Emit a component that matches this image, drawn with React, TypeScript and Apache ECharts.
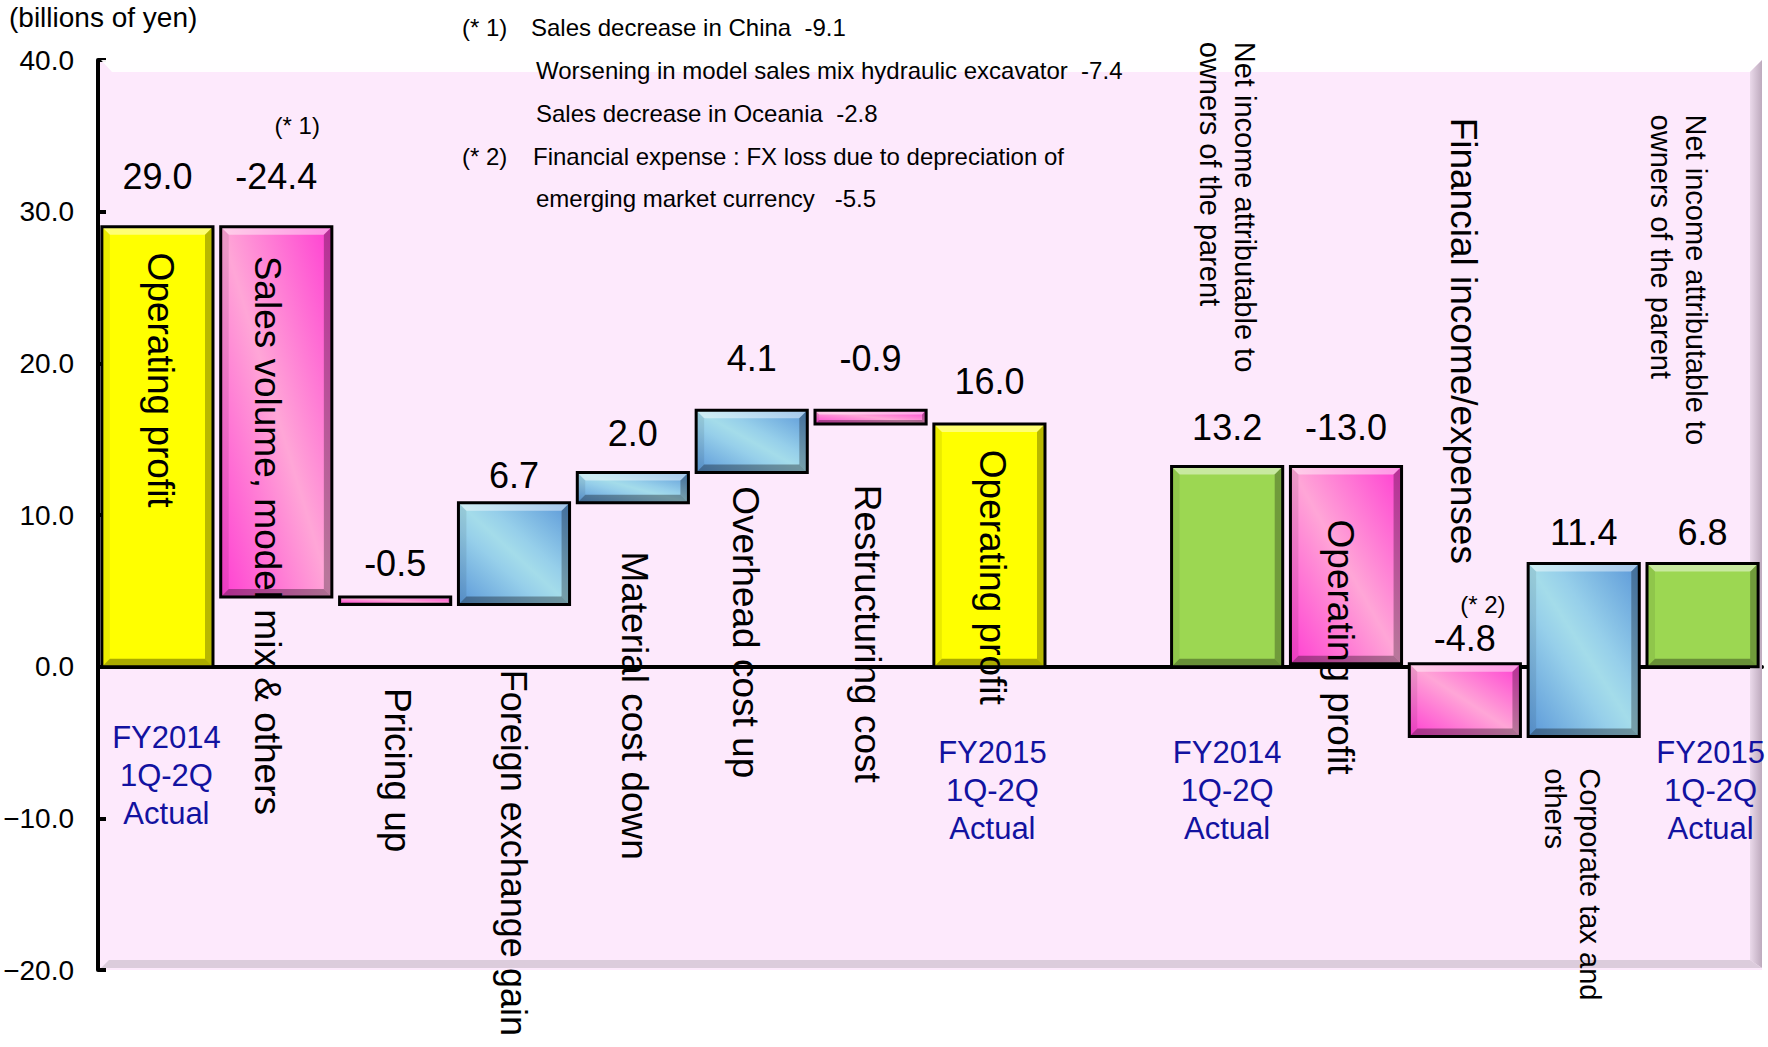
import React, { useEffect, useRef } from "react";
import * as echarts from "echarts";

// ---------------- data ----------------
const categories = [
  "FY2014 1Q-2Q Actual Operating profit",
  "Sales volume, model mix & others",
  "Pricing up",
  "Foreign exchange gain",
  "Material cost down",
  "Overhead cost up",
  "Restructuring cost",
  "FY2015 1Q-2Q Actual Operating profit",
  "",
  "FY2014 1Q-2Q Actual Net income attributable to owners of the parent",
  "Operating profit",
  "Financial income/expenses",
  "Corporate tax and others",
  "FY2015 1Q-2Q Actual Net income attributable to owners of the parent",
];
const barKinds = [
  "opTotal", "delta", "delta", "delta", "delta", "delta", "delta", "opTotal",
  "none", "netTotal", "delta", "delta", "delta", "netTotal",
];
const values: (number | null)[] = [
  29.0, -24.4, -0.5, 6.7, 2.0, 4.1, -0.9, 16.0, null, 13.2, -13.0, -4.8, 11.4, 6.8,
];
const categoryLabels = [
  "Operating profit",
  "Sales volume, model mix & others",
  "Pricing up",
  "Foreign exchange gain",
  "Material cost down",
  "Overhead cost up",
  "Restructuring cost",
  "Operating profit",
  "",
  "Net income attributable to\nowners of the parent",
  "Operating profit",
  "Financial income/expenses",
  "Corporate tax and\nothers",
  "Net income attributable to\nowners of the parent",
];
const periodLabels = [
  "FY2014\n1Q-2Q\nActual", "", "", "", "", "", "", "FY2015\n1Q-2Q\nActual",
  "", "FY2014\n1Q-2Q\nActual", "", "", "", "FY2015\n1Q-2Q\nActual",
];
const footnoteMarks = ["", "(* 1)", "", "", "", "", "", "", "", "", "", "(* 2)", "", ""];
const noteMarks = ["(* 1)", "", "", "(* 2)", ""];
const noteTexts = [
  "Sales decrease in China  -9.1",
  "Worsening in model sales mix hydraulic excavator  -7.4",
  "Sales decrease in Oceania  -2.8",
  "Financial expense : FX loss due to depreciation of",
  "emerging market currency   -5.5",
];
const yMin = -20;
const yMax = 40;
const yStep = 10;
const unitLabel = "(billions of yen)";

// ---------------- layout / style ----------------
const FONT = '"Liberation Sans", Arial, sans-serif';
const BAR_RATIO = 0.935;
const LABEL_START = [27.3, 27.1, -1.4, -0.2, 7.6, 11.9, 12.0, 14.3, 0, 41.2, 9.7, 36.2, -6.7, 36.4];
const LABEL_DX = [3, -9, 2, -1, 2, -6, -3, 3, 0, 0, -6, -1, -11, -24];
const LABEL_SIZE = [37, 37, 37, 36, 37, 37, 37, 37, 37, 29, 37, 37, 29, 29];
const VALUE_GAP = [50, 50, 33, 27, 39, 52, 52, 43, 0, 39, 39, 25, 31, 31];
const PERIOD_TOP = [-3.4, 0, 0, 0, 0, 0, 0, -4.4, 0, -4.4, 0, 0, 0, -4.4];
const PERIOD_DX = [9, 0, 0, 0, 0, 0, 0, 3, 0, 0, 0, 0, 0, 8];
const FOOT_POS = [0, 35.7, 0, 0, 0, 0, 0, 0, 0, 0, 0, 4.1, 0, 0];
const FOOT_DX = [0, 21, 0, 0, 0, 0, 0, 0, 0, 0, 0, 18, 0, 0];
const NOTE_Y = [27, 70, 113, 156, 198];

const PINK_STOPS = [
  { offset: 0, color: "#FF3ED2" },
  { offset: 0.5, color: "#FFA6D7" },
  { offset: 1, color: "#FF3ED2" },
];
const BLUE_STOPS = [
  { offset: 0, color: "#5A97D8" },
  { offset: 0.38, color: "#96CFEA" },
  { offset: 0.5, color: "#A4DCEA" },
  { offset: 0.62, color: "#96CFEA" },
  { offset: 1, color: "#5A97D8" },
];

function diagGradient(x: number, y: number, w: number, h: number, stops: any[]) {
  const cx = x + w / 2;
  const cy = y + h / 2;
  const nx = h;
  const ny = -w;
  const k = (w * h) / (nx * nx + ny * ny);
  return new echarts.graphic.LinearGradient(
    cx - nx * k, cy - ny * k, cx + nx * k, cy + ny * k, stops, true
  );
}

function buildItems() {
  const items: number[][] = [];
  let running = 0;
  values.forEach((v, i) => {
    if (v == null) return;
    const kind = barKinds[i];
    if (kind === "opTotal" || kind === "netTotal") {
      running = v;
      items.push([i, 0, v]);
    } else {
      const start = running;
      running = start + v;
      items.push([i, Math.min(start, running), Math.max(start, running)]);
    }
  });
  return items;
}

function txt(text: string, size: number, color: string, align: string, vAlign: string, extra: any = {}) {
  return {
    text,
    fill: color,
    font: `${size}px ${FONT}`,
    align,
    textAlign: align,
    verticalAlign: vAlign,
    textVerticalAlign: vAlign,
    ...extra,
  };
}

export default function App() {
  const ref = useRef<HTMLDivElement>(null);
  useEffect(() => {
    if (!ref.current) return;
    const chart = echarts.init(ref.current, undefined, { renderer: "svg" });
    const items = buildItems();

    const renderItem = (params: any, api: any) => {
      const i = api.value(0) as number;
      const lo = api.value(1) as number;
      const hi = api.value(2) as number;
      const pTop = api.coord([i, hi]);
      const pBot = api.coord([i, lo]);
      const slotW = api.size([1, 0])[0];
      const w = slotW * BAR_RATIO;
      const cx = pTop[0];
      const x = cx - w / 2;
      const y = pTop[1];
      const h = Math.max(pBot[1] - pTop[1], 1);
      const b = Math.min(8, h * 0.3);
      const kind = barKinds[i];
      const v = values[i] as number;
      let fill: any;
      if (kind === "opTotal") fill = "#FFFF00";
      else if (kind === "netTotal") fill = "#9CD752";
      else fill = diagGradient(x, y, w, h, v >= 0 ? BLUE_STOPS : PINK_STOPS);

      const children: any[] = [
        { type: "rect", shape: { x, y, width: w, height: h }, style: { fill } },
        {
          type: "polygon",
          shape: { points: [[x, y], [x + w, y], [x + w - b, y + b], [x + b, y + b]] },
          style: { fill: "rgba(255,255,255,0.45)" },
        },
        {
          type: "polygon",
          shape: { points: [[x, y + h], [x + w, y + h], [x + w - b, y + h - b], [x + b, y + h - b]] },
          style: { fill: "rgba(0,0,0,0.33)" },
        },
        {
          type: "polygon",
          shape: { points: [[x, y], [x + b, y + b], [x + b, y + h - b], [x, y + h]] },
          style: { fill: "rgba(0,0,0,0.08)" },
        },
        {
          type: "polygon",
          shape: { points: [[x + w, y], [x + w - b, y + b], [x + w - b, y + h - b], [x + w, y + h]] },
          style: { fill: "rgba(0,0,0,0.28)" },
        },
        {
          type: "rect",
          shape: { x, y, width: w, height: h },
          style: { fill: "none", stroke: "#000", lineWidth: 3 },
        },
        {
          type: "text",
          x: cx,
          y: y - VALUE_GAP[i],
          z2: 20,
          style: txt(v.toFixed(1), 36, "#000", "center", "middle"),
        },
      ];

      if (categoryLabels[i]) {
        const p = api.coord([i, LABEL_START[i]]);
        children.push({
          type: "text",
          x: cx + LABEL_DX[i],
          y: p[1],
          rotation: -Math.PI / 2,
          z2: 30,
          style: txt(categoryLabels[i], LABEL_SIZE[i], "#000", "left", "middle", {
            lineHeight: LABEL_SIZE[i] === 29 ? 35 : 44,
          }),
        });
      }
      if (periodLabels[i]) {
        const p = api.coord([i, PERIOD_TOP[i]]);
        children.push({
          type: "text",
          x: cx + PERIOD_DX[i],
          y: p[1],
          z2: 30,
          style: txt(periodLabels[i], 31, "#1212A0", "center", "top", { lineHeight: 38 }),
        });
      }
      if (footnoteMarks[i]) {
        const p = api.coord([i, FOOT_POS[i]]);
        children.push({
          type: "text",
          x: cx + FOOT_DX[i],
          y: p[1],
          z2: 30,
          style: txt(footnoteMarks[i], 24, "#000", "center", "middle"),
        });
      }
      return { type: "group", children };
    };

    const graphic: any[] = [
      {
        type: "polygon",
        z: 1,
        silent: true,
        shape: { points: [[101, 60], [1762, 60], [1750, 72], [112, 72]] },
        style: { fill: "rgba(255,255,255,0.95)" },
      },
      {
        type: "polygon",
        z: 1,
        silent: true,
        shape: { points: [[1762, 60], [1762, 968], [1750, 960], [1750, 72]] },
        style: {
          fill: new echarts.graphic.LinearGradient(0, 0, 1, 0, [
            { offset: 0, color: "#EAD9EA" },
            { offset: 1, color: "#BDAABD" },
          ]),
        },
      },
      {
        type: "polygon",
        z: 1,
        silent: true,
        shape: { points: [[101, 968], [1762, 968], [1750, 960], [109, 960]] },
        style: { fill: "#DCCCDC" },
      },
      {
        type: "text",
        z: 10,
        x: 9,
        y: 17,
        style: txt(unitLabel, 28, "#000", "left", "middle"),
      },
    ];
    noteTexts.forEach((t, k) => {
      if (noteMarks[k]) {
        graphic.push({
          type: "text",
          z: 10,
          x: 462,
          y: NOTE_Y[k],
          style: txt(noteMarks[k], 24, "#000", "left", "middle"),
        });
      }
      graphic.push({
        type: "text",
        z: 10,
        x: k === 0 ? 531 : k === 3 ? 533 : 536,
        y: NOTE_Y[k],
        style: txt(t, 24, "#000", "left", "middle"),
      });
    });

    chart.setOption({
      animation: false,
      backgroundColor: "#FFFFFF",
      grid: {
        left: 98,
        right: 6,
        top: 60,
        bottom: 77,
        show: true,
        backgroundColor: "#FDE9FC",
        borderWidth: 0,
      },
      xAxis: {
        type: "category",
        data: categories,
        axisLine: { onZero: true, lineStyle: { color: "#000", width: 4 } },
        axisTick: { show: false },
        axisLabel: { show: false },
        splitLine: { show: false },
      },
      yAxis: {
        type: "value",
        min: yMin,
        max: yMax,
        interval: yStep,
        axisLine: { show: true, lineStyle: { color: "#000", width: 4 } },
        axisTick: { show: true, inside: true, length: 8, lineStyle: { color: "#000", width: 4 } },
        axisLabel: {
          color: "#000",
          fontSize: 28,
          fontFamily: FONT,
          margin: 24,
          formatter: (val: number) => (val < 0 ? "\u2212" + Math.abs(val).toFixed(1) : val.toFixed(1)),
        },
        splitLine: { show: false },
      },
      graphic,
      series: [
        {
          type: "custom",
          clip: false,
          silent: true,
          renderItem,
          encode: { x: 0, y: [1, 2] },
          data: items,
          z: 5,
        },
      ],
    });
    return () => chart.dispose();
  }, []);

  return (
    <div
      ref={ref}
      style={{ position: "absolute", left: 0, top: 0, width: 1768, height: 1047, background: "#fff" }}
    />
  );
}
